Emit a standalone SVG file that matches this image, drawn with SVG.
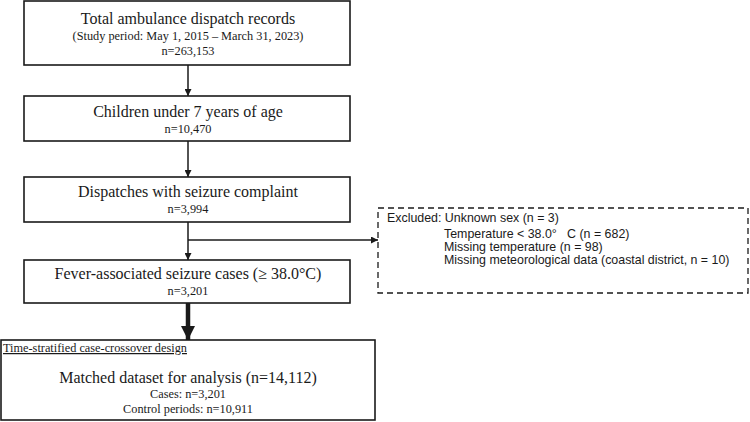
<svg xmlns="http://www.w3.org/2000/svg" width="750" height="422" viewBox="0 0 750 422">
<style>
.box{fill:#fff;stroke:#1a1a1a;stroke-width:1.6}
.dash{fill:#fff;stroke:#1a1a1a;stroke-width:1.3;stroke-dasharray:6 4}
.t{font-family:"Liberation Serif","Times New Roman",serif;fill:#1a1a1a;text-anchor:middle}
.big{font-size:16px}
.sm{font-size:12.3px}
.a{font-family:"Liberation Sans",Arial,sans-serif;fill:#1a1a1a;font-size:12.4px}
.ln{stroke:#1a1a1a;stroke-width:1.5;fill:none}
</style>
<defs>
<marker id="ah" viewBox="0 0 10 10" refX="10" refY="5" markerWidth="7" markerHeight="7" markerUnits="userSpaceOnUse" orient="auto"><path d="M0,0 L10,5 L0,10 z" fill="#1a1a1a"/></marker>
<marker id="ahb" viewBox="0 0 10 10" refX="10" refY="5" markerWidth="16" markerHeight="14" markerUnits="userSpaceOnUse" orient="auto"><path d="M0,0 L10,5 L0,10 z" fill="#1a1a1a"/></marker>
</defs>
<rect width="750" height="422" fill="#fff"/>
<g id="connectors">
<line class="ln" x1="188" y1="65" x2="188" y2="96" marker-end="url(#ah)"/>
<line class="ln" x1="188" y1="141" x2="188" y2="177" marker-end="url(#ah)"/>
<line class="ln" x1="188" y1="222" x2="188" y2="260" marker-end="url(#ah)"/>
<line class="ln" x1="188" y1="240" x2="378" y2="240" marker-end="url(#ah)"/>
<line x1="188" y1="303" x2="188" y2="340" stroke="#1a1a1a" stroke-width="4.5" marker-end="url(#ahb)"/>
</g>
<g id="n1">
<rect class="box" x="24" y="1" width="326" height="64"/>
<text class="t big" x="188" y="24">Total ambulance dispatch records</text>
<text class="t sm" x="188" y="40">(Study period: May 1, 2015 – March 31, 2023)</text>
<text class="t sm" x="188" y="55">n=263,153</text>
</g>
<g id="n2">
<rect class="box" x="24" y="96" width="326" height="45"/>
<text class="t big" x="188" y="117">Children under 7 years of age</text>
<text class="t sm" x="188" y="133">n=10,470</text>
</g>
<g id="n3">
<rect class="box" x="24" y="177" width="326" height="45"/>
<text class="t big" x="188" y="197">Dispatches with seizure complaint</text>
<text class="t sm" x="188" y="213">n=3,994</text>
</g>
<g id="n4">
<rect class="box" x="24" y="260" width="326" height="43"/>
<text class="t big" x="188" y="279">Fever-associated seizure cases (≥ 38.0°C)</text>
<text class="t sm" x="188" y="295">n=3,201</text>
</g>
<g id="n5">
<rect class="box" x="1" y="340" width="374" height="80"/>
<text class="t sm" x="3" y="352" style="text-anchor:start;text-decoration:underline">Time-stratified case-crossover design</text>
<text class="t big" x="188" y="383">Matched dataset for analysis (n=14,112)</text>
<text class="t sm" x="188" y="398">Cases: n=3,201</text>
<text class="t sm" x="188" y="413">Control periods: n=10,911</text>
</g>
<g id="excluded">
<rect class="dash" x="378" y="208" width="370" height="85"/>
<text class="a" x="387" y="222">Excluded: Unknown sex (n = 3)</text>
<text class="a" x="444" y="238" xml:space="preserve">Temperature &lt; 38.0°   C (n = 682)</text>
<text class="a" x="444" y="251">Missing temperature (n = 98)</text>
<text class="a" x="444" y="264">Missing meteorological data (coastal district, n = 10)</text>
</g>
</svg>
